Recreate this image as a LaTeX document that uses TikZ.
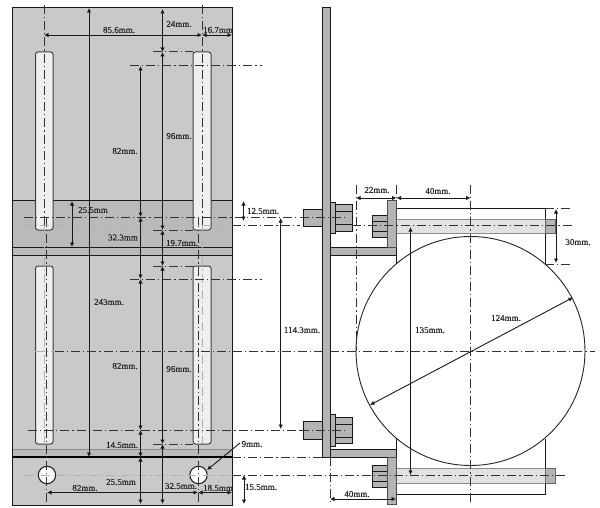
\documentclass[tikz,border=0pt]{standalone}
\usepackage{fontspec}
\setmainfont{Liberation Serif}
\newfontfamily\labf[FakeBold=0.25]{Liberation Serif}
\usetikzlibrary{arrows.meta}
\definecolor{plate}{HTML}{C9C9C9}
\definecolor{band}{HTML}{BABABA}
\definecolor{part}{HTML}{B4B4B4}
\definecolor{slotc}{HTML}{EFEFEF}
\definecolor{rod}{HTML}{E2E2E2}
\tikzset{
  x=1pt,y=-1pt,
  outl/.style={draw=black!90,line width=1pt},
  partf/.style={outl,fill=part},
  slotf/.style={outl,draw=black!75,fill=slotc,rounded corners=2.5pt},
  thinl/.style={draw=black!70,line width=0.6pt},
  cl/.style={draw=black!80,line width=1pt,dash pattern=on 9pt off 3pt on 1.2pt off 3pt},
  clg/.style={draw=black!30,line width=1pt,dash pattern=on 9pt off 3pt on 1.2pt off 3pt},
  dim/.style={draw=black!90,line width=0.9pt,{Latex[length=4.5pt,width=4.5pt]}-{Latex[length=4.5pt,width=4.5pt]}},
  lead/.style={draw=black!90,line width=0.9pt,-{Latex[length=4.5pt,width=4.5pt]}},
  lab/.style={font=\labf\fontsize{9}{10}\selectfont,inner sep=0pt,text=black!85}
}
\begin{document}
\begin{tikzpicture}
\useasboundingbox (0,0) rectangle (600,508);
\fill[white] (0,0) rectangle (600,508);
% left plate
\fill[plate] (12.5,8) rectangle (232.5,505);
\fill[band] (12.5,200.5) rectangle (232.5,255);
\fill[band] (12.5,449) rectangle (232.5,457);
\draw[outl] (12.5,8) rectangle (232.5,505);
\draw[outl] (12.5,200.5) -- (232.5,200.5);
\draw[outl] (12.5,247) -- (232.5,247);
\draw[outl] (12.5,255) -- (232.5,255);
\draw[thinl,draw=black!45] (12.5,449) -- (232.5,449);
\draw[draw=black,line width=1.1pt] (12.5,457) -- (232.5,457);
% slots
\draw[slotf] (35.5,52) rectangle (53,230);
\draw[slotf] (193,52) rectangle (211,230);
\draw[slotf] (35.5,266) rectangle (53,444);
\draw[slotf] (193,266) rectangle (211,444);
% holes
\draw[outl,fill=white] (47,475) circle (8.7);
\draw[outl,fill=white] (198.5,475) circle (8.7);
% centre lines left view
\draw[cl] (44,5) -- (44,225);
\draw[clg] (44,225) -- (44,444);
\draw[cl] (46.5,218) -- (46.5,505);
\draw[cl] (202,5) -- (202,225);
\draw[clg] (202,225) -- (202,444);
\draw[cl] (198,218) -- (198,505);
\draw[clg] (24,225) -- (232,225);
\draw[cl] (232,225) -- (300,225);
\draw[cl] (24,217) -- (298,217);
\draw[cl] (130,66) -- (262,66);
\draw[cl] (153,52) -- (193,52);
\draw[cl] (153,230) -- (193,230);
\draw[cl] (130,279) -- (262,279);
\draw[cl] (153,266) -- (193,266);
\draw[cl] (153,444) -- (193,444);
\draw[cl] (28,430) -- (300,430);
\draw[clg] (35,351) -- (55,351);
\draw[cl] (55,351) -- (595,351);
\draw[cl] (232,457) -- (330,457);
\draw[clg] (25,475) -- (232,475);
% right view: wall plate and brackets
\draw[outl,fill=part] (322,8) rectangle (330,457);
\draw[partf] (330,247) rectangle (396.5,255.5);
\draw[partf] (330,449) rectangle (396.5,457);
% upper bolt
\draw[partf] (303,209) rectangle (322,226.5);
\draw[partf] (335,204.5) rectangle (352.5,231.5);
\draw[outl] (335,211) -- (352.5,211) (335,224.5) -- (352.5,224.5);
\draw[partf] (330,202) rectangle (335,233);
% lower bolt
\draw[partf] (303,421) rectangle (322,439.5);
\draw[partf] (335,417) rectangle (352.5,443.5);
\draw[outl] (335,424) -- (352.5,424) (335,437) -- (352.5,437);
\draw[partf] (330,414) rectangle (335,446);
% big circle and clamps
\draw[outl] (396.5,208.5) -- (545,208.5) -- (545,264);
\draw[outl] (396.5,208.5) -- (396.5,264);
\draw[outl] (396.5,439) -- (396.5,494.5) -- (545,494.5) -- (545,439);
\draw[draw=black!85,line width=0.9pt] (470.5,351) circle (114.5);
% rods
\draw[draw=black!45,line width=0.6pt,fill=rod] (396.5,219) rectangle (545,233.5);
\draw[draw=black!45,line width=0.6pt,fill=rod] (396.5,468) rectangle (545,483);
\draw[partf,draw=black!60] (545,219) rectangle (555,233.5);
\draw[partf,draw=black!60] (545,468) rectangle (555,483);
% clamp plates
\draw[partf] (372.5,215) rectangle (387.5,237.5);
\draw[outl] (372.5,221) -- (387.5,221) (372.5,231) -- (387.5,231);
\draw[partf,draw=black!70] (387.5,200) rectangle (396.5,247);
\draw[partf] (372.5,465) rectangle (387.5,487);
\draw[outl] (372.5,471) -- (387.5,471) (372.5,481) -- (387.5,481);
\draw[partf,draw=black!70] (387.5,457) rectangle (396.5,504);
% centre lines right view
\draw[cl] (232,475) -- (565,475);
\draw[cl] (300,217.5) -- (345,217.5);
\draw[cl] (300,430) -- (345,430);
\draw[cl] (352,225) -- (572,225);
\draw[cl] (356,185) -- (356,351);
\draw[cl] (396.5,185) -- (396.5,200);
\draw[cl] (470.5,185) -- (470.5,503);
\draw[cl] (330,457) -- (330,502);
\draw[cl] (545,208.5) -- (572,208.5);
\draw[cl] (545,264) -- (572,264);
% dimensions
\draw[dim] (89,8) -- (89,457);
\draw[dim] (162.5,9) -- (162.5,52);
\draw[dim] (162.5,52) -- (162.5,230);
\draw[dim] (162.5,230) -- (162.5,266);
\draw[dim] (162.5,266) -- (162.5,444);
\draw[dim] (162.5,444) -- (162.5,504);
\draw[dim] (140.5,66) -- (140.5,217);
\draw[dim] (140.5,217) -- (140.5,279);
\draw[dim] (140.5,279) -- (140.5,430);
\draw[dim] (140.5,430) -- (140.5,457);
\draw[dim] (140.5,457) -- (140.5,504);
\draw[dim] (72,201) -- (72,247);
\draw[dim] (44,35) -- (202,35);
\draw[dim] (202,35) -- (232,35);
\draw[dim] (47,492.5) -- (198,492.5);
\draw[dim] (198,492.5) -- (232,492.5);
\draw[dim] (243.5,201) -- (243.5,221);
\draw[dim] (244,475) -- (244,504);
\draw[dim] (280.7,218) -- (280.7,429);
\draw[lead] (240,443) -- (207,470);
\draw[dim] (356,198) -- (396.5,198);
\draw[dim] (396.5,198) -- (470.5,198);
\draw[dim] (410.5,227) -- (410.5,475);
\draw[dim] (556,209) -- (556,263);
\draw[dim] (330,499) -- (396,499);
\draw[dim] (370,405) -- (573,297.5);
% labels
\node[lab] (a1) at (119,30) {85.6mm.};
\node[lab] (a2) at (179,24) {24mm.};
\node[lab] (a3) at (218,30) {16.7mm};
\node[lab] (a4) at (179,136) {96mm.};
\node[lab] (a5) at (125,151) {82mm.};
\node[lab] (a6) at (93,210) {25.5mm};
\node[lab] (a7) at (263,211) {12.5mm.};
\node[lab] (a8) at (123,237.5) {32.3mm};
\node[lab] (a9) at (182,243) {19.7mm.};
\node[lab] (a10) at (109,302) {243mm.};
\node[lab] (a11) at (125,366) {82mm.};
\node[lab] (a12) at (179,369) {96mm.};
\node[lab] (a13) at (122,445) {14.5mm.};
\node[lab] (a14) at (252,444) {9mm.};
\node[lab] (a15) at (121,482) {25.5mm};
\node[lab] (a16) at (85,488) {82mm.};
\node[lab] (a17) at (181,486) {32.5mm.};
\node[lab] (a18) at (218,488) {18.5mm};
\node[lab] (a19) at (261,487) {15.5mm.};
\node[lab] (a20) at (302,330) {114.3mm.};
\node[lab] (a21) at (377,190) {22mm.};
\node[lab] (a22) at (438,191) {40mm.};
\node[lab] (a23) at (578,242) {30mm.};
\node[lab] (a24) at (506,318) {124mm.};
\node[lab] (a25) at (430,330) {135mm.};
\node[lab] (a26) at (357,494) {40mm.};
\end{tikzpicture}
\end{document}
